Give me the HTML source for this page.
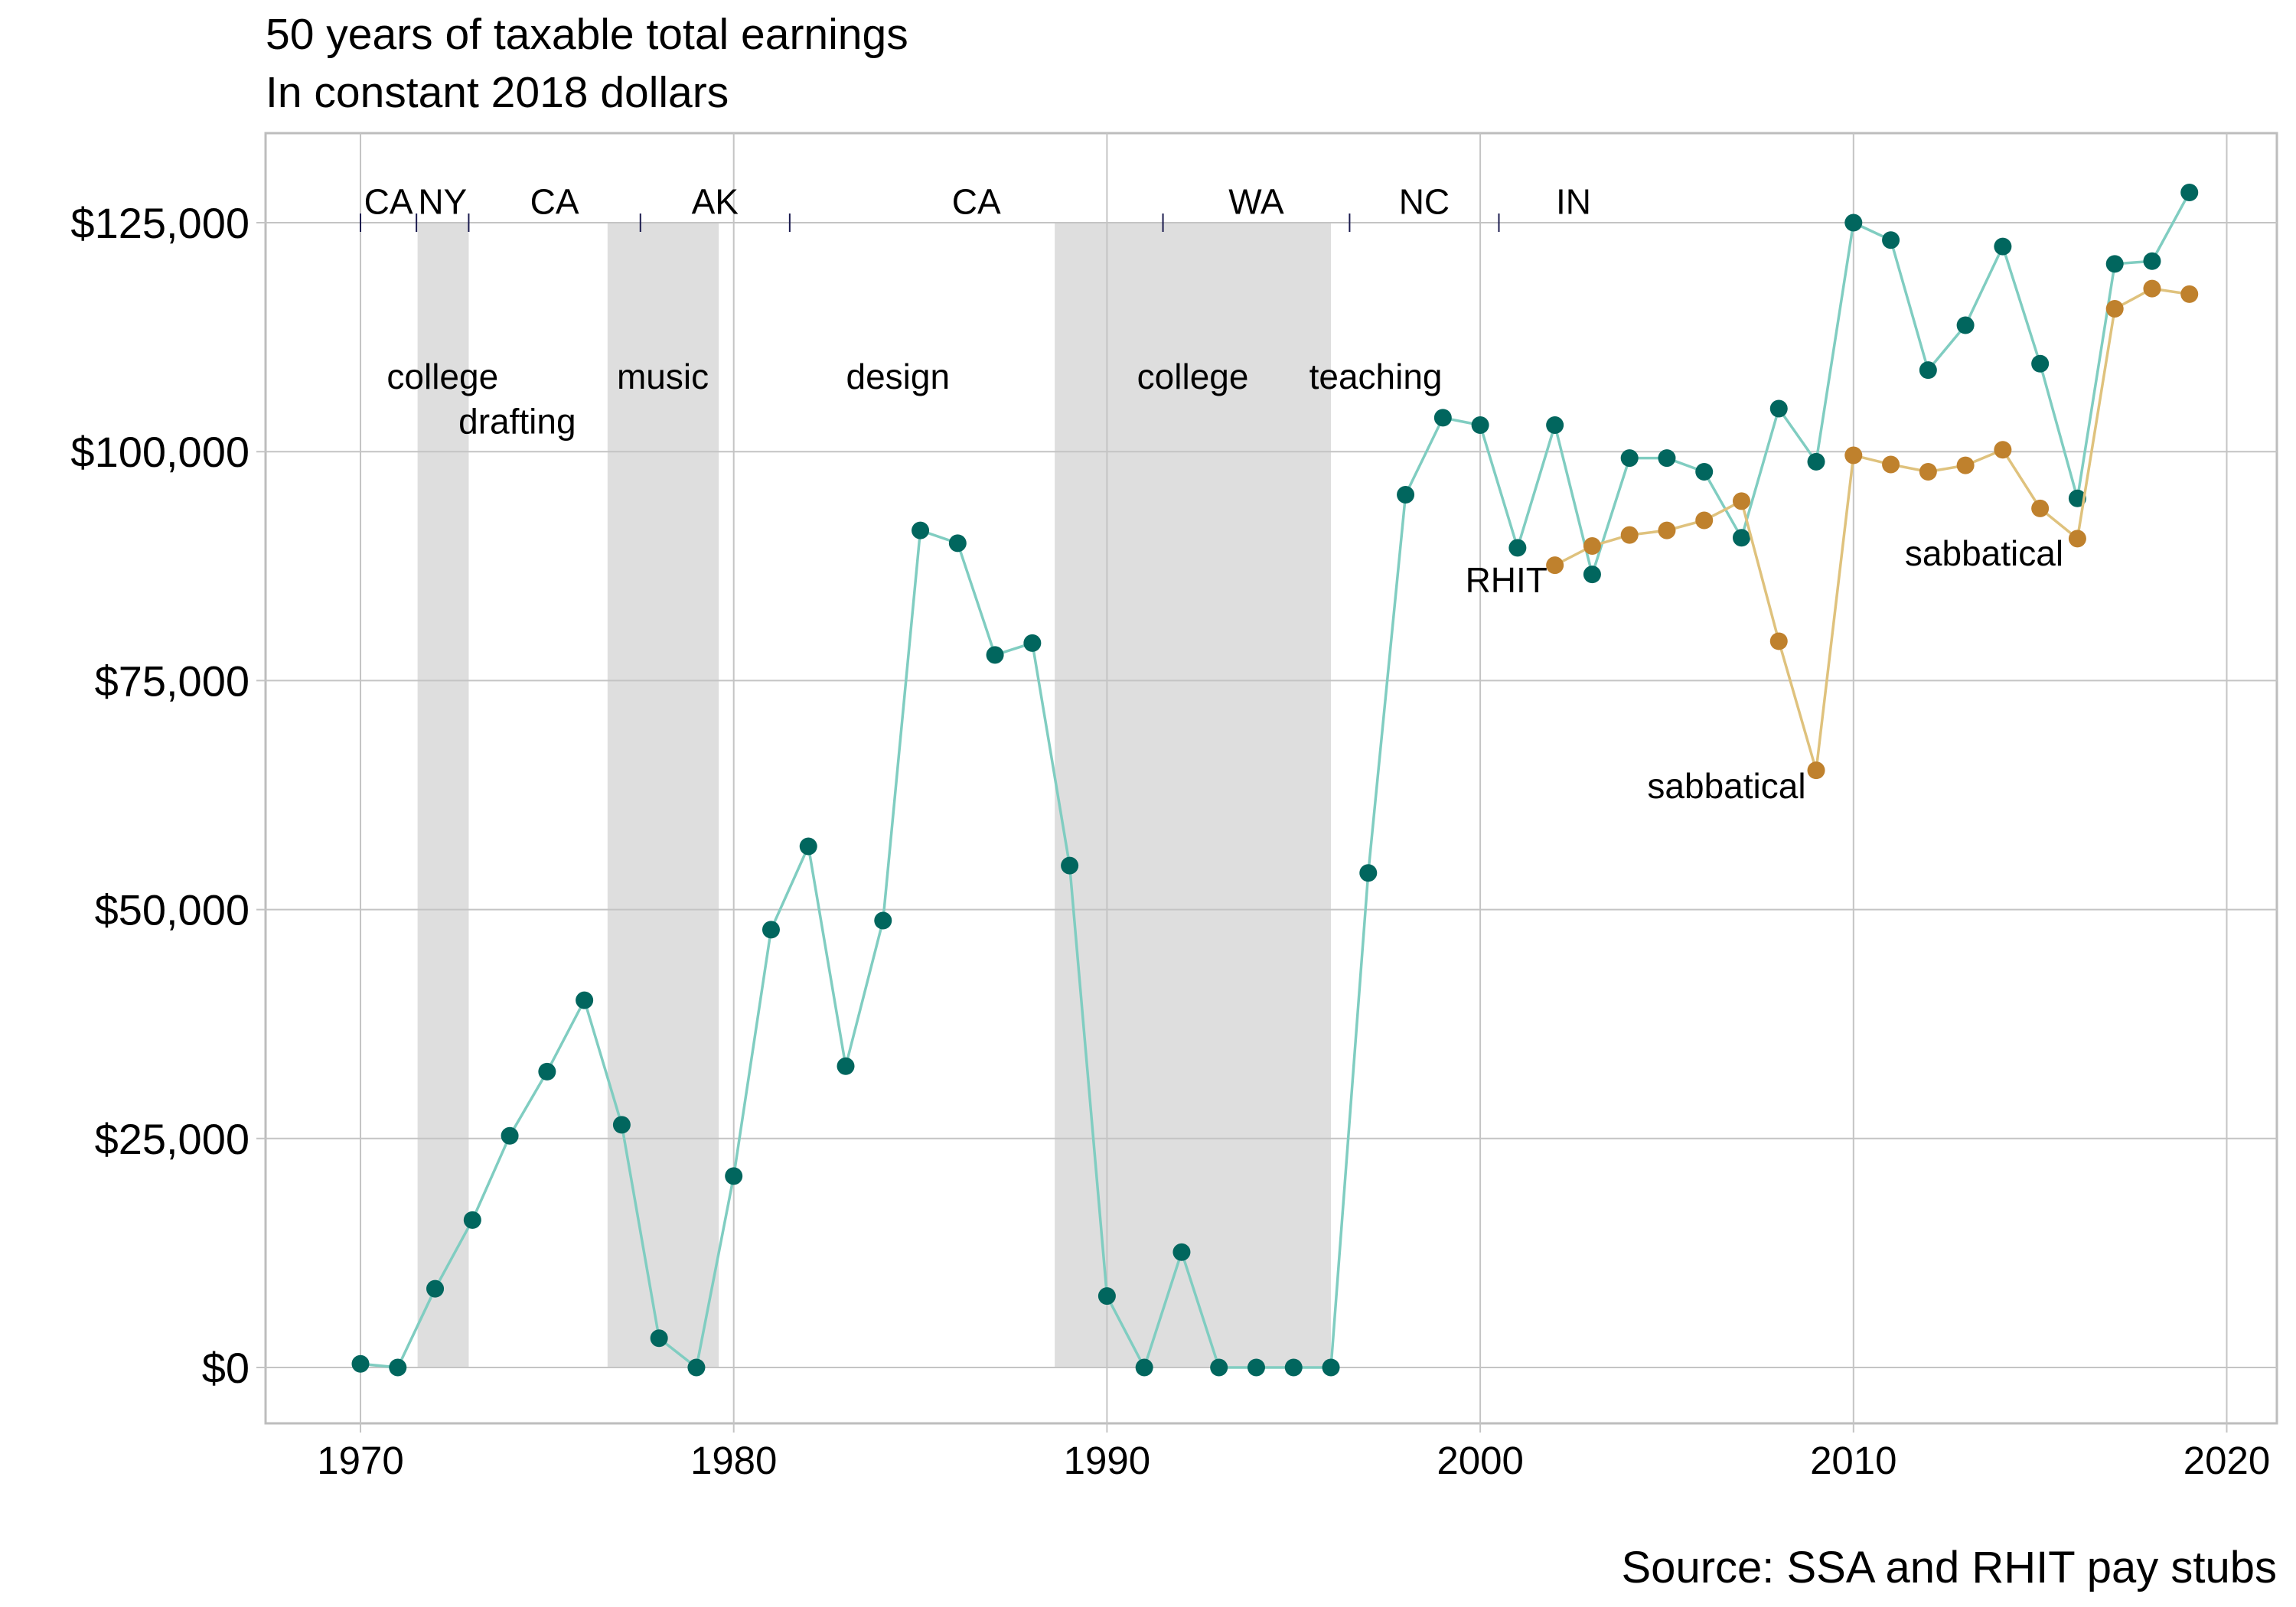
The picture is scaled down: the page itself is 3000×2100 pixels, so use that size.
<!DOCTYPE html>
<html><head><meta charset="utf-8"><style>
html,body{margin:0;padding:0;background:#fff}
svg{display:block;font-family:"Liberation Sans",Arial,sans-serif}
</style></head><body>
<svg id="chart" width="3000" height="2100" viewBox="0 0 3000 2100" xmlns="http://www.w3.org/2000/svg">
<text x="347" y="64" font-size="57" fill="#000">50 years of taxable total earnings</text>
<text x="347" y="140" font-size="57" fill="#000">In constant 2018 dollars</text>
<text x="2975" y="2068" font-size="58" text-anchor="end" fill="#000">Source: SSA and RHIT pay stubs</text>
<g id="plot"></g>
</svg>
<script>
const years = [1970,1971,1972,1973,1974,1975,1976,1977,1978,1979,1980,1981,1982,1983,1984,1985,1986,1987,1988,1989,1990,1991,1992,1993,1994,1995,1996,1997,1998,1999,2000,2001,2002,2003,2004,2005,2006,2007,2008,2009,2010,2011,2012,2013,2014,2015,2016,2017,2018,2019];
const totalEarnings = [400,0,8600,16100,25300,32300,40100,26500,3200,0,20900,47800,56900,32900,48800,91400,90000,77800,79100,54800,7800,0,12600,0,0,0,0,54000,95300,103700,102900,89500,102900,86600,99300,99300,97800,90600,104700,98900,125000,123100,108900,113800,122400,109600,94900,120500,120800,128300];
const rhitYears = [2002,2003,2004,2005,2006,2007,2008,2009,2010,2011,2012,2013,2014,2015,2016,2017,2018,2019];
const rhitEarnings = [87600,89700,90900,91400,92500,94600,79300,65200,99600,98600,97800,98500,100200,93800,90500,115600,117800,117200];
const shadeStarts = [1971.53,1976.62,1988.6];
const shadeEnds = [1972.9,1979.6,1996.0];
const moveYears = [1970,1971.5,1972.9,1977.5,1981.5,1991.5,1996.5,2000.5];
const stateNames = ["CA","NY","CA","AK","CA","WA","NC","IN"];
const stateYears = [1970.75,1972.2,1975.2,1979.5,1986.5,1994,1998.5,2002.5];
const activityNames = ["college","drafting","music","design","college","teaching","RHIT","sabbatical","sabbatical"];
const activityYears = [1972.2,1974.2,1978.1,1984.4,1992.3,1997.2,2000.7,2006.6,2013.5];
const activityValues = [108200,103300,108200,108200,108200,108200,86000,63500,88900];
const xTicks = [1970,1980,1990,2000,2010,2020];
const yTicks = [0,25000,50000,75000,100000,125000];
const yTickLabels = ["$0","$25,000","$50,000","$75,000","$100,000","$125,000"];

const NS="http://www.w3.org/2000/svg";
const X0=347,X1=2975,Y0=174,Y1=1860;
const x=v=>471+(v-1970)*48.77;
const y=v=>1787-v*(1496/125000);
const g=document.getElementById('plot');
function mk(t,a,p){const e=document.createElementNS(NS,t);for(const k in a)e.setAttribute(k,a[k]);(p||g).appendChild(e);return e;}

let bd=mk('rect',{x:X0,y:Y0,width:X1-X0,height:Y1-Y0,fill:'none',stroke:'#bdbdbd','stroke-width':3});


shadeStarts.forEach((s,i)=>{const r=mk('rect',{x:x(s),y:y(125000),width:x(shadeEnds[i])-x(s),height:y(0)-y(125000),fill:'#dedede'});

});
xTicks.forEach(t=>{const l=mk('line',{x1:x(t),x2:x(t),y1:Y0,y2:Y1+12,stroke:'#c4c4c4','stroke-width':2});


const tx=mk('text',{x:x(t),y:1926,'font-size':51,'text-anchor':'middle',fill:'#000'});tx.textContent=t;

});
yTicks.forEach((t,i)=>{const l=mk('line',{x1:X0-12,x2:X1,y1:y(t),y2:y(t),stroke:'#c4c4c4','stroke-width':2});


const tx=mk('text',{x:326,y:y(t)+20,'font-size':56,'text-anchor':'end',fill:'#000'});tx.textContent=yTickLabels[i];

});
moveYears.forEach(m=>{const l=mk('line',{x1:x(m),x2:x(m),y1:y(125000)-12,y2:y(125000)+12,stroke:'#1a1a4e','stroke-width':2});

});
stateNames.forEach((s,i)=>{const t=mk('text',{x:x(stateYears[i]),y:y(127300)+16,'font-size':46,'text-anchor':'middle',fill:'#000'});t.textContent=s;

});
activityNames.forEach((s,i)=>{const t=mk('text',{x:x(activityYears[i]),y:y(activityValues[i])+16,'font-size':46,'text-anchor':'middle',fill:'#000'});t.textContent=s;

});
function series(xs,vs,lc,pc,name){
 const p=mk('polyline',{points:xs.map((v,i)=>x(v)+','+y(vs[i])).join(' '),fill:'none',stroke:lc,'stroke-width':3.5});
 
 
 xs.forEach((v,i)=>{const c=mk('circle',{cx:x(v),cy:y(vs[i]),r:11.5,fill:pc});
 
 });
}
series(years,totalEarnings,'#80cdc1','#01665e','total-earnings');
series(rhitYears,rhitEarnings,'#dfc27d','#bf812d','rhit-earnings');
</script>
</body></html>
